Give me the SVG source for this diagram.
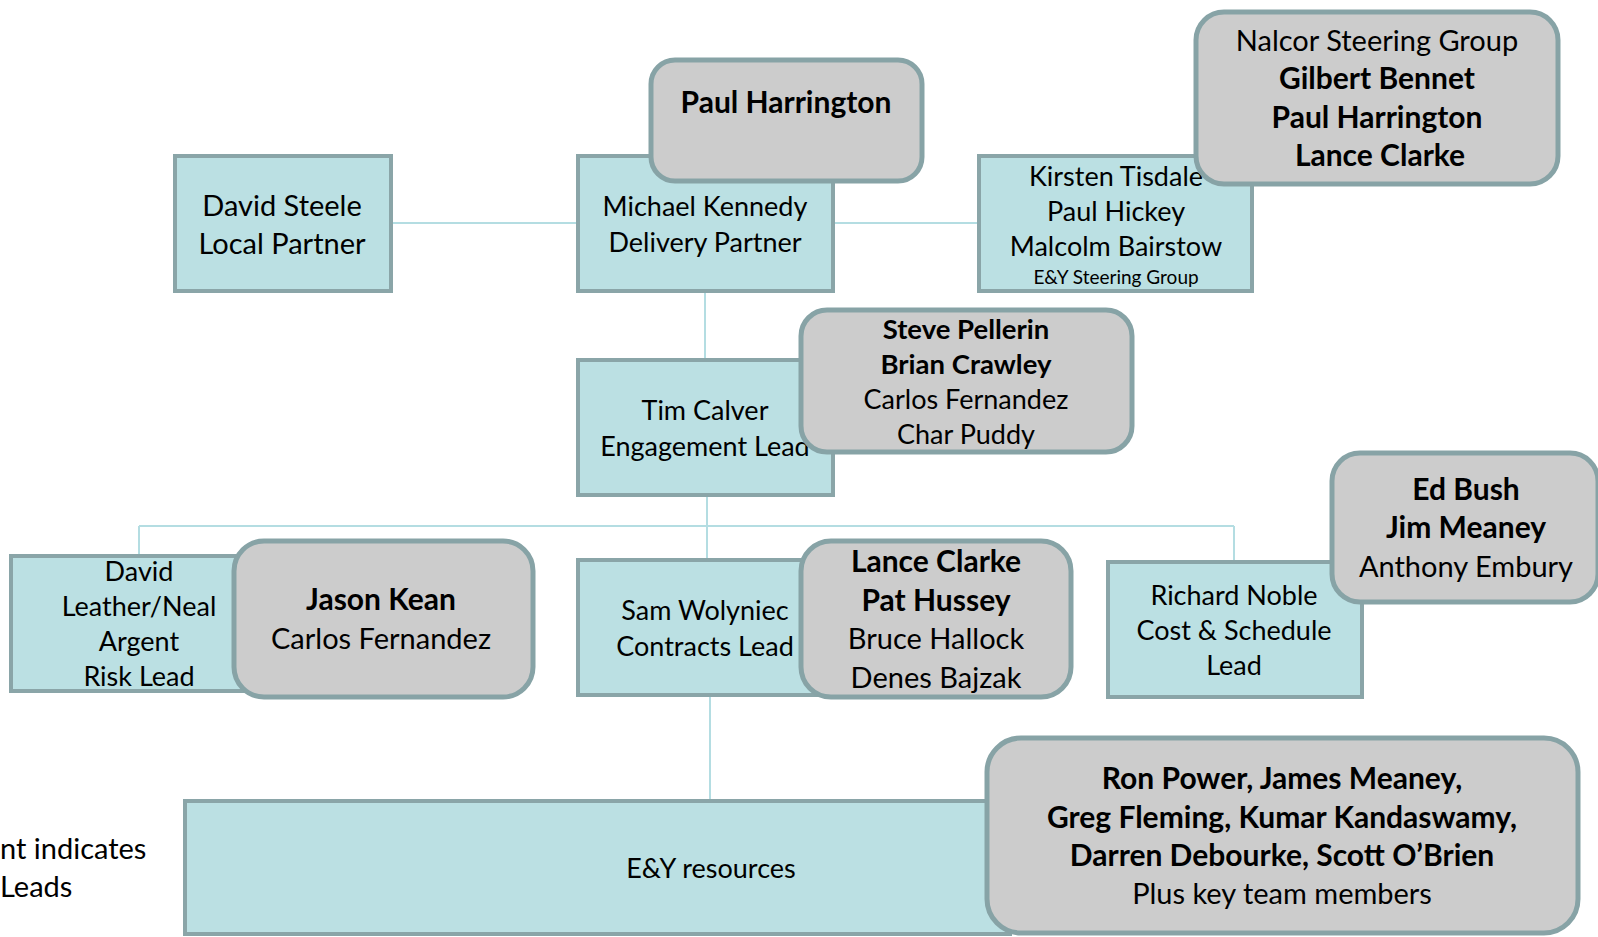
<svg xmlns="http://www.w3.org/2000/svg" width="1598" height="937" viewBox="0 0 1598 937">
<style>
.b{fill:#bbe0e3;stroke:#8aa5a8;stroke-width:4}
.g{fill:#cccccc;stroke:#87a3a6;stroke-width:5}
.c{stroke:#b4dde2;stroke-width:2;fill:none}
text{font-family:Lato,"Open Sans",sans-serif;fill:#000;text-anchor:middle}
.m{font-size:27px}
.l{font-size:29px}
.s{font-size:19px}
.k{font-weight:bold}
.l.k{font-size:30px}
.m.k{font-size:27.5px}
</style>
<rect width="1598" height="937" fill="#fff"/>
<g id="connectors">
<path class="c" d="M391,223H578M833,223H979M705,291V360M707,495V526M139,526H1234M139,526V555M707,526V559M1234,526V561M710,695V800"/>
</g>
<g id="n-david-steele">
<rect class="b" x="175" y="156" width="216" height="135"/>
<text class="l" x="282" y="216">David Steele</text>
<text class="l" x="282" y="254">Local Partner</text>
</g>
<g id="n-michael-kennedy">
<rect class="b" x="578" y="156" width="255" height="135"/>
<text class="m" x="705" y="216">Michael Kennedy</text>
<text class="m" x="705" y="252">Delivery Partner</text>
</g>
<g id="n-paul-harrington">
<rect class="g" x="651" y="60" width="271" height="121" rx="24"/>
<text class="l k" x="786" y="113">Paul Harrington</text>
</g>
<g id="n-ey-steering">
<rect class="b" x="979" y="156" width="273" height="135"/>
<text class="m" x="1116" y="186">Kirsten Tisdale</text>
<text class="m" x="1116" y="221">Paul Hickey</text>
<text class="m" x="1116" y="256">Malcolm Bairstow</text>
<text class="s" x="1116" y="284">E&amp;Y Steering Group</text>
</g>
<g id="n-nalcor-steering">
<rect class="g" x="1196" y="12" width="362" height="172" rx="28"/>
<text class="l" x="1377" y="51">Nalcor Steering Group</text>
<text class="l k" x="1377" y="89">Gilbert Bennet</text>
<text class="l k" x="1377" y="128">Paul Harrington</text>
<text class="l k" x="1380" y="166">Lance Clarke</text>
</g>
<g id="n-tim-calver">
<rect class="b" x="578" y="360" width="255" height="135"/>
<text class="m" x="705" y="420">Tim Calver</text>
<text class="m" x="705" y="456">Engagement Lead</text>
</g>
<g id="n-steering-pellerin">
<rect class="g" x="801" y="310" width="331" height="142" rx="26"/>
<text class="m k" x="966" y="339">Steve Pellerin</text>
<text class="m k" x="966" y="374">Brian Crawley</text>
<text class="m" x="966" y="409">Carlos Fernandez</text>
<text class="m" x="966" y="444">Char Puddy</text>
</g>
<g id="n-risk-lead">
<rect class="b" x="11" y="556" width="250" height="135"/>
<text class="m" x="139" y="581">David</text>
<text class="m" x="139" y="616">Leather/Neal</text>
<text class="m" x="139" y="651">Argent</text>
<text class="m" x="139" y="686">Risk Lead</text>
</g>
<g id="n-jason-kean">
<rect class="g" x="234" y="541" width="299" height="156" rx="30"/>
<text class="l k" x="381" y="610">Jason Kean</text>
<text class="l" x="381" y="649">Carlos Fernandez</text>
</g>
<g id="n-contracts-lead">
<rect class="b" x="578" y="560" width="255" height="135"/>
<text class="m" x="705" y="620">Sam Wolyniec</text>
<text class="m" x="705" y="656">Contracts Lead</text>
</g>
<g id="n-lance-clarke">
<rect class="g" x="801" y="541" width="270" height="156" rx="30"/>
<text class="l k" x="936" y="572">Lance Clarke</text>
<text class="l k" x="936" y="611">Pat Hussey</text>
<text class="l" x="936" y="649">Bruce Hallock</text>
<text class="l" x="936" y="688">Denes Bajzak</text>
</g>
<g id="n-cost-schedule">
<rect class="b" x="1108" y="562" width="254" height="135"/>
<text class="m" x="1234" y="605">Richard Noble</text>
<text class="m" x="1234" y="640">Cost &amp; Schedule</text>
<text class="m" x="1234" y="675">Lead</text>
</g>
<g id="n-ed-bush">
<rect class="g" x="1332" y="453" width="266" height="149" rx="28"/>
<text class="l k" x="1466" y="500">Ed Bush</text>
<text class="l k" x="1466" y="538">Jim Meaney</text>
<text class="l" x="1466" y="577">Anthony Embury</text>
</g>
<g id="n-ey-resources">
<rect class="b" x="185" y="801" width="825" height="133"/>
<text class="m" x="711" y="878">E&amp;Y resources</text>
</g>
<g id="n-ron-power">
<rect class="g" x="987" y="738" width="591" height="195" rx="34"/>
<text class="l k" x="1282" y="789">Ron Power, James Meaney,</text>
<text class="l k" x="1282" y="828">Greg Fleming, Kumar Kandaswamy,</text>
<text class="l k" x="1282" y="866">Darren Debourke, Scott O’Brien</text>
<text class="l" x="1282" y="904">Plus key team members</text>
</g>
<g id="legend">
<text class="l" x="0" y="859" style="text-anchor:start">nt indicates</text>
<text class="l" x="0" y="897" style="text-anchor:start">Leads</text>
</g>
</svg>
